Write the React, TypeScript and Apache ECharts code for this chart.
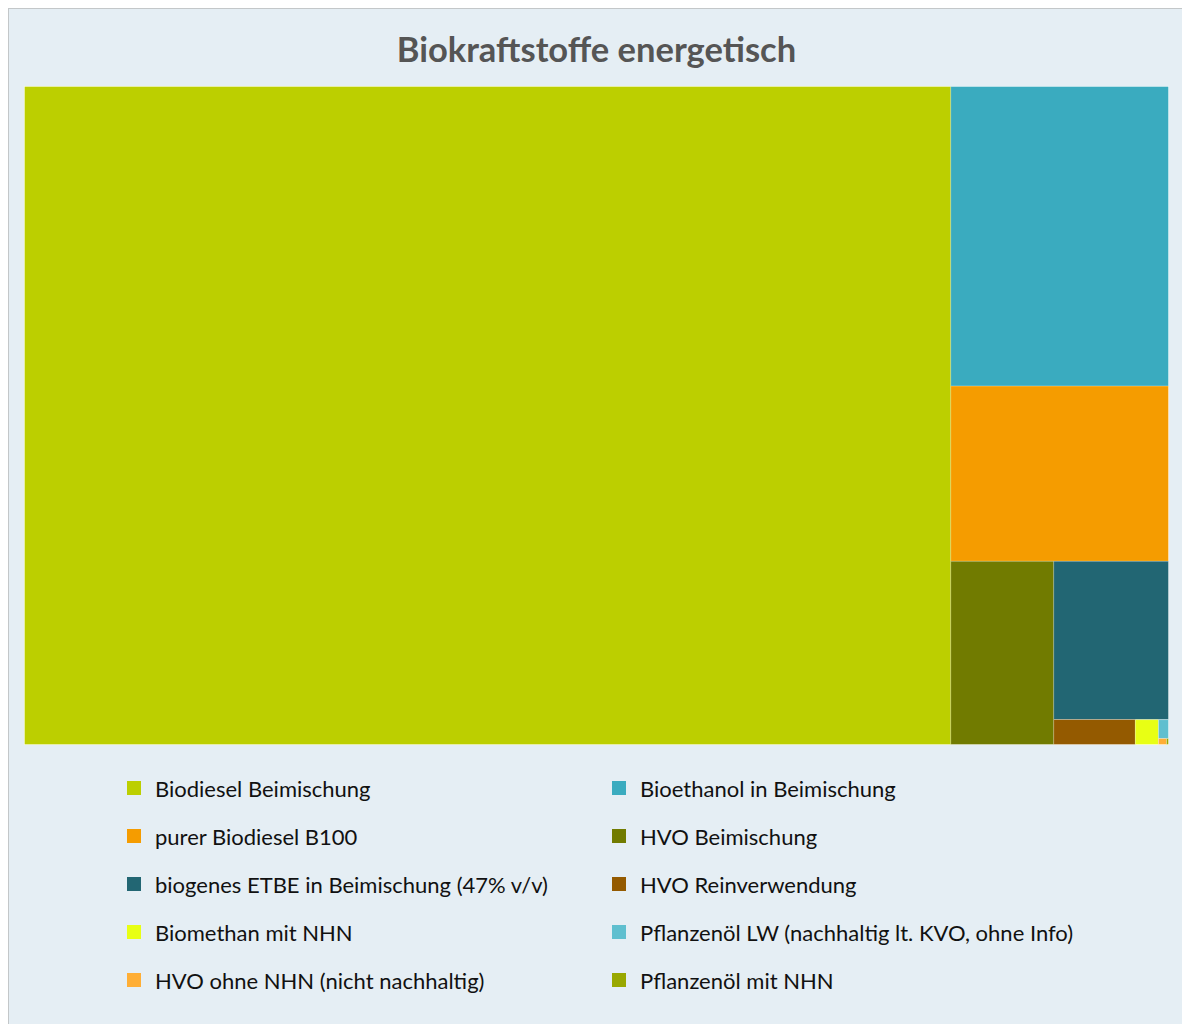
import React, { useEffect, useRef } from "react";
import * as echarts from "echarts";

const categories = [
  "Biodiesel Beimischung",
  "Bioethanol in Beimischung",
  "purer Biodiesel B100",
  "HVO Beimischung",
  "biogenes ETBE in Beimischung (47% v/v)",
  "HVO Reinverwendung",
  "Biomethan mit NHN",
  "Pflanzenöl LW (nachhaltig lt. KVO, ohne Info)",
  "HVO ohne NHN (nicht nachhaltig)",
  "Pflanzenöl mit NHN",
];

const values = [60904, 6518, 3815, 1885, 1817, 203, 57.5, 19, 4.8, 1.2];

const colors = [
  "#bccf00",
  "#3aabbf",
  "#f59c00",
  "#717b00",
  "#226673",
  "#945a00",
  "#e8ff14",
  "#5fbfcf",
  "#ffae35",
  "#99a800",
];

const titleText = "Biokraftstoffe energetisch";

export default function App() {
  const ref = useRef<HTMLDivElement>(null);
  useEffect(() => {
    if (!ref.current) return;
    const chart = echarts.init(ref.current, null, { renderer: "svg" });
    const data = categories.map((name, i) => ({
      name,
      value: values[i],
      itemStyle: {
        color: colors[i],
        borderColor: echarts.color.lerp(0.3, [colors[i], "#ffffff"]),
      },
    }));
    chart.setOption({
      animation: false,
      backgroundColor: "#e5eef4",
      color: colors,
      title: {
        text: titleText,
        left: "center",
        top: 17,
        textStyle: {
          fontFamily: "Lato",
          fontSize: 34.5,
          fontWeight: "bold",
          color: "#555555",
        },
      },
      legend: {
        data: categories,
        left: 113,
        top: 763,
        width: 990,
        orient: "horizontal",
        itemWidth: 14,
        itemHeight: 14,
        itemGap: 26,
        icon: "rect",
        selectedMode: false,
        textStyle: {
          fontFamily: "Lato",
          fontSize: 22,
          color: "#111111",
          width: 431,
          lineHeight: 22,
          padding: [0, 0, 0, 9],
          overflow: "none",
        },
      },
      series: [
        {
          type: "treemap",
          left: 15,
          top: 77,
          width: 1145,
          height: 659,
          squareRatio: 1,
          roam: false,
          nodeClick: false,
          breadcrumb: { show: false },
          label: { show: false },
          upperLabel: { show: false },
          itemStyle: {
            borderWidth: 0.5,
            gapWidth: 0,
          },
          emphasis: { disabled: true },
          data,
        },
        {
          type: "pie",
          radius: [0, 0],
          center: [-100, -100],
          silent: true,
          label: { show: false },
          labelLine: { show: false },
          data: categories.map((name, i) => ({
            name,
            value: 1,
            itemStyle: { color: colors[i] },
          })),
        },
      ],
    });
    return () => chart.dispose();
  }, []);
  return (
    <div
      style={{
        position: "fixed",
        left: 8,
        top: 8,
        width: 1174,
        height: 1016,
        overflow: "hidden",
      }}
    >
      <div
        style={{
          width: 1177,
          height: 1030,
          border: "1px solid #c3c7c9",
          boxSizing: "border-box",
        }}
      >
        <div ref={ref} style={{ width: 1175, height: 1028 }} />
      </div>
    </div>
  );
}
